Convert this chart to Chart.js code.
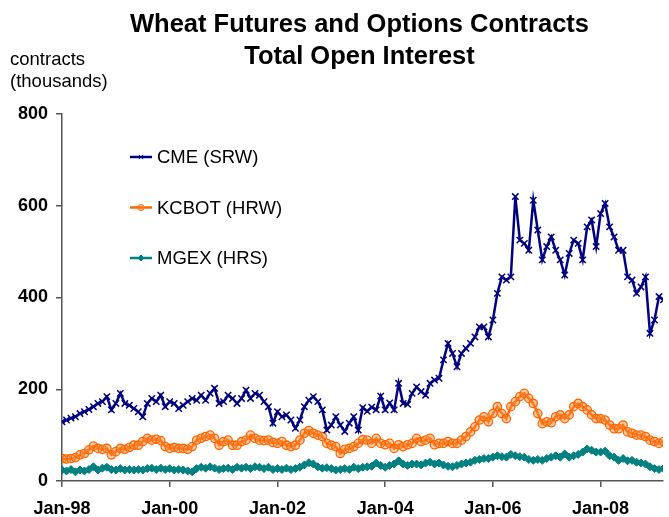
<!DOCTYPE html>
<html>
<head>
<meta charset="utf-8">
<script src="https://cdn.jsdelivr.net/npm/chart.js@4"></script>
<style>
  body { margin: 0; background: #fff; }
  canvas { display: block; }
</style>
</head>
<body>
<canvas id="myChart" width="669" height="517"></canvas>
<script>
// monthly readings, Jan-98 onwards (thousands of contracts)
const startYear = 1998;
const seriesNames = ['CME (SRW)', 'KCBOT (HRW)', 'MGEX (HRS)'];
const titleLines = ['Wheat Futures and Options Contracts', 'Total Open Interest'];
const axisTitle = ['contracts', '(thousands)'];
const yTicks = [0, 200, 400, 600, 800];
const xTickMonths = [0, 24, 48, 72, 96, 120];

const cme = [129, 133, 137, 140, 147, 151, 156, 162, 169, 173, 184, 155,
    169, 191, 169, 165, 158, 151, 140, 169, 180, 173, 187, 162,
    173, 169, 158, 165, 173, 180, 176, 187, 176, 191, 202, 169,
    173, 187, 180, 169, 180, 198, 180, 191, 187, 173, 162, 126,
    151, 140, 144, 133, 115, 133, 162, 176, 184, 173, 155, 111,
    122, 140, 122, 108, 126, 140, 111, 160, 152, 161, 155, 185,
    155, 170, 155, 213, 169, 167, 191, 205, 195, 187, 213, 220,
    224, 264, 300, 278, 249, 278, 289, 300, 314, 336, 336, 314,
    351, 409, 445, 438, 445, 620, 525, 518, 503, 612, 547, 482,
    511, 532, 503, 482, 449, 496, 525, 518, 482, 554, 569, 511,
    583, 605, 554, 532, 503, 503, 445, 438, 409, 423, 445, 322,
    351, 402, 395];

const kcbot = [49, 48, 49, 51, 57, 60, 68, 76, 71, 69, 71, 57,
    64, 71, 69, 73, 78, 78, 86, 93, 89, 91, 88, 75,
    71, 73, 71, 71, 69, 75, 89, 93, 97, 100, 93, 78,
    86, 89, 78, 78, 86, 89, 100, 93, 89, 88, 89, 84,
    82, 86, 78, 75, 78, 89, 104, 110, 104, 100, 97, 82,
    78, 75, 60, 69, 71, 75, 82, 90, 89, 82, 93, 82,
    79, 82, 71, 79, 75, 79, 82, 93, 86, 89, 93, 79,
    82, 82, 86, 82, 82, 89, 97, 107, 118, 133, 140, 129,
    147, 162, 147, 136, 162, 173, 184, 191, 180, 169, 147, 125,
    129, 127, 140, 144, 136, 144, 162, 169, 162, 155, 144, 136,
    136, 133, 122, 114, 114, 122, 107, 104, 100, 100, 97, 89,
    86, 82, 86];

const mgex = [24, 22, 25, 20, 24, 22, 25, 31, 24, 28, 30, 25,
    24, 27, 24, 25, 24, 25, 24, 27, 28, 25, 28, 25,
    27, 24, 25, 24, 22, 20, 27, 30, 28, 31, 28, 25,
    27, 28, 25, 30, 28, 30, 27, 31, 30, 27, 30, 25,
    27, 25, 28, 25, 27, 30, 35, 40, 37, 31, 28, 29,
    27, 24, 25, 27, 25, 30, 27, 30, 31, 32, 39, 34,
    30, 34, 37, 44, 37, 34, 37, 37, 35, 39, 41, 37,
    39, 35, 32, 31, 34, 37, 39, 41, 45, 47, 49, 49,
    52, 55, 53, 52, 58, 55, 53, 52, 47, 45, 47, 45,
    49, 52, 55, 52, 59, 52, 55, 58, 63, 70, 67, 63,
    63, 65, 55, 52, 45, 49, 44, 45, 41, 39, 37, 31,
    27, 25, 27];

const FONT = '"Liberation Sans", Arial, sans-serif';
Chart.defaults.font.family = FONT;
Chart.defaults.color = '#000';

function toPoints(values) {
    return values.map((v, i) => ({ x: i, y: v }));
}

function monthLabel(m) {
    const yr = startYear + Math.floor(m / 12);
    return 'Jan-' + String(yr).slice(2);
}

const styles = [
    { color: '#000080', fill: '#000080', pointStyle: 'crossRot', radius: 4.5, pointBorderWidth: 1.5 },
    { color: '#FF6600', fill: 'rgba(255,140,60,0.45)', pointStyle: 'circle', radius: 4.2, pointBorderWidth: 1.3 },
    { color: '#008080', fill: '#008080', pointStyle: 'rectRot', radius: 4, pointBorderWidth: 1 }
];

const datasets = [cme, kcbot, mgex].map((vals, i) => ({
    label: seriesNames[i],
    data: toPoints(vals),
    borderColor: styles[i].color,
    backgroundColor: styles[i].fill,
    borderWidth: 2.5,
    pointStyle: styles[i].pointStyle,
    pointRadius: styles[i].radius,
    pointBorderWidth: styles[i].pointBorderWidth,
    pointBorderColor: styles[i].color,
    pointBackgroundColor: styles[i].fill,
    tension: 0
}));

// title, axis caption and the in-plot legend
const extras = {
    id: 'extras',
    afterDraw(chart) {
        const ctx = chart.ctx;
        const area = chart.chartArea;
        ctx.save();
        ctx.fillStyle = '#000';
        ctx.textBaseline = 'middle';

        ctx.textAlign = 'center';
        ctx.font = 'bold 25.5px ' + FONT;
        const cx = (area.left + area.right) / 2 - 3;
        titleLines.forEach((t, i) => ctx.fillText(t, cx, 25 + i * 32));

        ctx.textAlign = 'left';
        ctx.font = '18.5px ' + FONT;
        axisTitle.forEach((t, i) => ctx.fillText(t, 10, 60 + i * 22));

        const lx = area.left + 68;
        chart.data.datasets.forEach((ds, i) => {
            const y = area.top + 43 + i * 50.5;
            ctx.strokeStyle = ds.borderColor;
            ctx.lineWidth = 2.5;
            ctx.beginPath();
            ctx.moveTo(lx, y);
            ctx.lineTo(lx + 22, y);
            ctx.stroke();
            ctx.fillStyle = ds.pointBackgroundColor;
            ctx.strokeStyle = ds.borderColor;
            ctx.lineWidth = 1;
            Chart.helpers.drawPoint(ctx, {
                pointStyle: ds.pointStyle,
                radius: 3,
                rotation: 0,
                borderWidth: 1
            }, lx + 11, y);
            ctx.fillStyle = '#000';
            ctx.font = '18.5px ' + FONT;
            ctx.fillText(ds.label, lx + 27, y + 1);
        });
        ctx.restore();
    }
};

const ctx = document.getElementById('myChart');
const myChart = new Chart(ctx, {
    type: 'line',
    data: { datasets: datasets },
    options: {
        responsive: false,
        animation: false,
        layout: { padding: { top: 114, right: 0, bottom: 0, left: 0 } },
        plugins: {
            legend: { display: false },
            title: { display: false },
            tooltip: { enabled: false }
        },
        scales: {
            x: {
                type: 'linear',
                min: 0,
                max: 133.9,
                afterFit: (s) => { s.height = 36; },
                afterBuildTicks: (s) => { s.ticks = xTickMonths.map(v => ({ value: v })); },
                border: { display: true, color: '#555', width: 1.5 },
                grid: { drawOnChartArea: false, drawTicks: true, tickLength: 6, tickColor: '#555', lineWidth: 1.5 },
                ticks: {
                    padding: 11,
                    maxRotation: 0,
                    font: { size: 18, weight: 'bold' },
                    callback: (v) => monthLabel(v)
                }
            },
            y: {
                min: 0,
                max: 800,
                afterFit: (s) => { s.width = 62; },
                afterBuildTicks: (s) => { s.ticks = yTicks.map(v => ({ value: v })); },
                border: { display: true, color: '#555', width: 1.5 },
                grid: { drawOnChartArea: false, drawTicks: true, tickLength: 6, tickColor: '#555', lineWidth: 1.5 },
                ticks: {
                    padding: 8,
                    font: { size: 18, weight: 'bold' }
                }
            }
        }
    },
    plugins: [extras]
});
</script>
</body>
</html>
